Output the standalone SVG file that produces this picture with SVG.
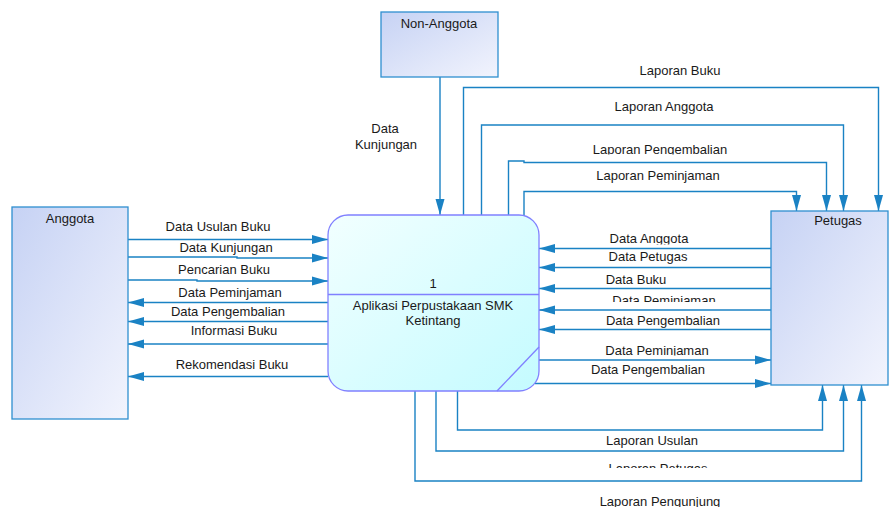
<svg xmlns="http://www.w3.org/2000/svg" width="889" height="507" viewBox="0 0 889 507">
  <defs>
    <linearGradient id="entityFill" x1="0" y1="0" x2="1" y2="1">
      <stop offset="0" stop-color="#c6d2f4"/>
      <stop offset="1" stop-color="#f2f4fd"/>
    </linearGradient>
    <linearGradient id="processFill" x1="0" y1="0" x2="1" y2="1">
      <stop offset="0" stop-color="#f2ffff"/>
      <stop offset="1" stop-color="#c4fbff"/>
    </linearGradient>
    <marker id="arrow" markerUnits="userSpaceOnUse" markerWidth="16" markerHeight="10" refX="16" refY="5" orient="auto">
      <path d="M0,0.5 L16,5 L0,9.5 z" fill="#1a82c4"/>
    </marker>
    <!-- labels whose lower part is cut off -->
    <clipPath id="cutAnggota" clipPathUnits="userSpaceOnUse"><rect x="0" y="0" width="889" height="244.5"/></clipPath>
    <clipPath id="cutPinjamIn" clipPathUnits="userSpaceOnUse"><rect x="0" y="0" width="889" height="302"/></clipPath>
    <clipPath id="cutPinjamOut" clipPathUnits="userSpaceOnUse"><rect x="0" y="0" width="889" height="355.5"/></clipPath>
    <clipPath id="cutKembali" clipPathUnits="userSpaceOnUse"><rect x="0" y="0" width="889" height="154.5"/></clipPath>
    <clipPath id="cutPetugas" clipPathUnits="userSpaceOnUse"><rect x="0" y="0" width="889" height="468"/></clipPath>
  </defs>
  <style>
    .entity { fill: url(#entityFill); stroke: #2f8fd0; stroke-width: 1.3; }
    .process { fill: url(#processFill); stroke: #8080ff; stroke-width: 1.3; }
    .divider { stroke: #8080ff; stroke-width: 1.3; fill: none; }
    .flow { fill: none; stroke: #1a82c4; stroke-width: 1.4; marker-end: url(#arrow); }
    text { font-family: "Liberation Sans", Arial, sans-serif; font-size: 13px; fill: #1a1a1a; text-anchor: middle; }
  </style>

  <rect width="889" height="507" fill="#ffffff"/>

  <!-- data flows -->
  <g id="connectors">
    <!-- Anggota to process -->
    <path class="flow" d="M128,239.5 H328"/>
    <path class="flow" d="M128,257 H237 V258 H328"/>
    <path class="flow" d="M128,280 H197 V281 H328"/>
    <!-- process to Anggota -->
    <path class="flow" d="M328,302.5 H128"/>
    <path class="flow" d="M328,321.5 H128"/>
    <path class="flow" d="M328,344 H128"/>
    <path class="flow" d="M328,376.5 H128"/>
    <!-- Non-Anggota to process -->
    <path class="flow" d="M440,77 V215"/>
    <!-- Petugas to process -->
    <path class="flow" d="M771,248.5 H539"/>
    <path class="flow" d="M771,267.5 H539"/>
    <path class="flow" d="M771,288.5 H539"/>
    <path class="flow" d="M771,310 H539"/>
    <path class="flow" d="M771,329.5 H539"/>
    <!-- process to Petugas -->
    <path class="flow" d="M539,360 H771"/>
    <path class="flow" d="M535,383.5 H771"/>
    <!-- reports over the top -->
    <path class="flow" d="M463.5,215 V87.5 H878.5 V211"/>
    <path class="flow" d="M481.5,215 V125 H843.5 V211"/>
    <path class="flow" d="M508.5,215 V161 H524 V162.5 H826.5 V211"/>
    <path class="flow" d="M524,216 V191.5 H796.5 V211"/>
    <!-- reports underneath -->
    <path class="flow" d="M457.5,391 V430 H822.5 V385"/>
    <path class="flow" d="M436,391 V451 H843.5 V385"/>
    <path class="flow" d="M415,391 V481 H861.5 V385"/>
  </g>

  <!-- external entities -->
  <g id="anggota">
    <rect class="entity" x="12" y="207" width="116" height="212"/>
    <text x="70" y="223">Anggota</text>
  </g>
  <g id="non-anggota">
    <rect class="entity" x="381" y="12" width="117" height="65"/>
    <text x="439" y="28">Non-Anggota</text>
  </g>
  <g id="petugas">
    <rect class="entity" x="771" y="211" width="117" height="174"/>
    <text x="838" y="225">Petugas</text>
  </g>

  <!-- process -->
  <g id="process-1">
    <rect class="process" x="328" y="215" width="211" height="176" rx="20" ry="20"/>
    <line class="divider" x1="328" y1="294.5" x2="539" y2="294.5"/>
    <line class="divider" x1="497" y1="391" x2="539" y2="347"/>
    <text x="433" y="288">1</text>
    <text x="433" y="310">Aplikasi Perpustakaan SMK</text>
    <text x="433" y="325">Ketintang</text>
  </g>

  <!-- flow labels -->
  <g id="labels">
    <text x="218" y="231">Data Usulan Buku</text>
    <text x="226" y="252">Data Kunjungan</text>
    <text x="224" y="274">Pencarian Buku</text>
    <text x="230" y="297">Data Peminjaman</text>
    <text x="228" y="316">Data Pengembalian</text>
    <text x="234" y="335">Informasi Buku</text>
    <text x="232" y="369">Rekomendasi Buku</text>

    <text x="385" y="133">Data</text>
    <text x="386" y="149">Kunjungan</text>

    <text x="649" y="243" clip-path="url(#cutAnggota)">Data Anggota</text>
    <text x="648" y="261">Data Petugas</text>
    <text x="636" y="284">Data Buku</text>
    <text x="664" y="305" clip-path="url(#cutPinjamIn)">Data Peminjaman</text>
    <text x="663" y="325">Data Pengembalian</text>
    <text x="657" y="355" clip-path="url(#cutPinjamOut)">Data Peminjaman</text>
    <text x="648" y="374">Data Pengembalian</text>

    <text x="680" y="75">Laporan Buku</text>
    <text x="664" y="111">Laporan Anggota</text>
    <text x="660" y="154" clip-path="url(#cutKembali)">Laporan Pengembalian</text>
    <text x="658" y="180">Laporan Peminjaman</text>

    <text x="652" y="445">Laporan Usulan</text>
    <text x="658" y="473" clip-path="url(#cutPetugas)">Laporan Petugas</text>
    <text x="660" y="506">Laporan Pengunjung</text>
  </g>
</svg>
